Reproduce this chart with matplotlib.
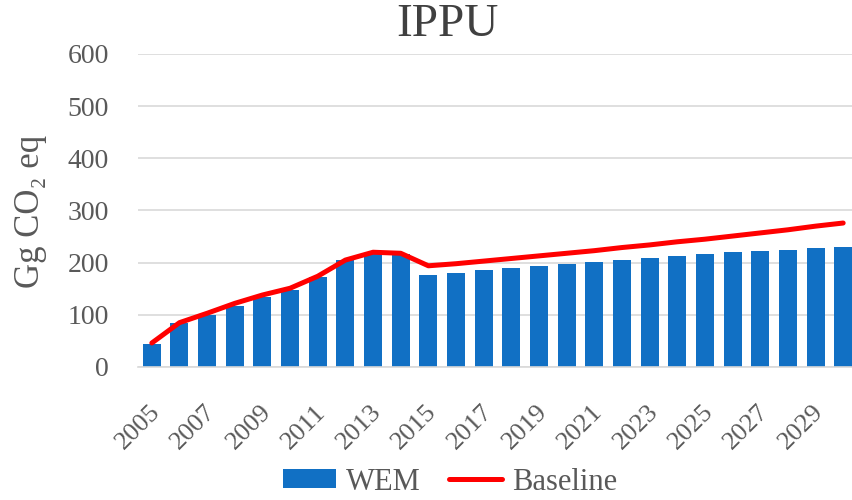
import matplotlib
matplotlib.use("Agg")
import matplotlib.pyplot as plt
import matplotlib.transforms as mtransforms

years = list(range(2005, 2031))
wem = [45, 84, 100, 116, 135, 148, 172, 205, 217, 217, 177, 180, 185, 190, 193,
       197, 201, 205, 209, 213, 216, 220, 223, 225, 228, 230]
baseline = [46, 85, 103, 122, 138, 151, 174, 205, 220, 218, 194, 198, 203, 208, 213,
            218, 223, 229, 234, 240, 245, 251, 257, 263, 270, 276]
yticks = [0, 100, 200, 300, 400, 500, 600]
xtick_years = list(range(2005, 2030, 2))

plt.rcParams['font.family'] = ['Liberation Serif', 'DejaVu Serif']
txt = '#595959'

fig = plt.figure(figsize=(8.53, 5.0), dpi=100)
ax = fig.add_axes([138/853, 1-367/500, 719/853, (367-54)/500])

bars = ax.bar(years, wem, width=0.65, color='#1170C4', label='WEM', zorder=2)
line, = ax.plot(years, baseline, color='#FF0000', lw=3.6, label='Baseline', zorder=3,
                solid_capstyle='round', solid_joinstyle='round')

ax.set_xlim(2004.5, 2030.5)
ax.set_ylim(0, 600)
ax.set_yticks(yticks)
ax.yaxis.grid(True, color='#D9D9D9', lw=1.2, zorder=0)
ax.set_axisbelow(True)
for s in ['top', 'right', 'left']:
    ax.spines[s].set_visible(False)
ax.spines['bottom'].set_color('#D9D9D9')
ax.spines['bottom'].set_linewidth(1.2)
ax.tick_params(axis='both', length=0, colors=txt)
ax.tick_params(axis='y', labelsize=20, pad=21)
ax.set_xticks(xtick_years)
ax.set_xticklabels([str(y) for y in xtick_years], rotation=45, ha='right',
                   va='center', rotation_mode='anchor', fontsize=19)
ax.tick_params(axis='x', pad=30)
offset = mtransforms.ScaledTranslation(5/100, 0, fig.dpi_scale_trans)
for lab in ax.get_xticklabels():
    lab.set_transform(lab.get_transform() + offset)

fig.text(31/853, 1-211/500, 'Gg CO₂ eq', fontsize=25, color=txt,
         rotation=90, ha='center', va='center')
fig.text(447/853, 1-25/500, 'IPPU', fontsize=34, color='#404040',
         ha='center', va='center')

fig.legend([bars, line], ['WEM', 'Baseline'], loc='center',
           bbox_to_anchor=(450/853, 1-482/500), ncol=2,
           frameon=False, fontsize=22, labelcolor=txt, handlelength=1.75,
           handletextpad=0.33, columnspacing=0.9, handleheight=0.6)

fig.savefig('out.png', dpi=100)
